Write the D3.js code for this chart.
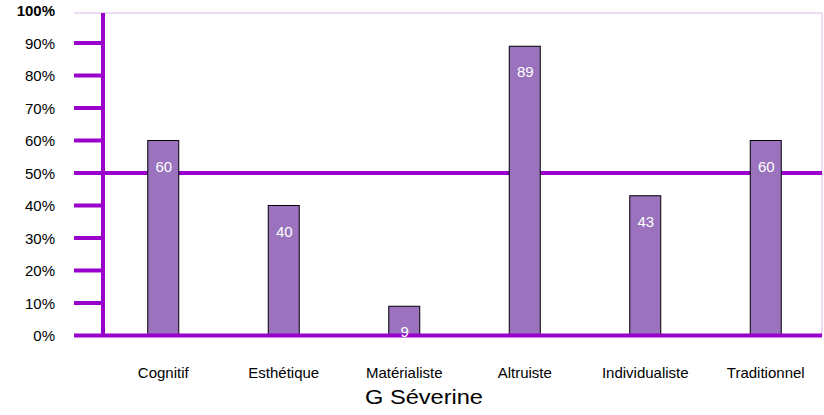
<!DOCTYPE html>
<html><head><meta charset="utf-8">
<script src="https://cdn.jsdelivr.net/npm/d3@7/dist/d3.min.js"></script>
<style>body{margin:0;background:#fff}svg{display:block;font-family:"Liberation Sans",Arial,sans-serif}</style>
</head><body><svg id="c" width="824" height="415"></svg>
<script>
const categories = ["Cognitif","Esthétique","Matérialiste","Altruiste","Individualiste","Traditionnel"];
const values = [60,40,9,89,43,60];
const yTicks = [0,10,20,30,40,50,60,70,80,90,100];
const title = "G Séverine";

const svg = d3.select("#c");
const purple = "#9900cc";
const x = d3.scaleBand().domain(categories).range([103,826]);
const y = d3.scaleLinear().domain([0,100]).range([335.5,10.5]);

// top and right light border
svg.append("line").attr("x1",74).attr("x2",822).attr("y1",13).attr("y2",13).attr("stroke","#dcb8ee").attr("stroke-width",1);
svg.append("line").attr("x1",822).attr("x2",822).attr("y1",13).attr("y2",y(0)).attr("stroke","#dcb8ee").attr("stroke-width",1);

// 50% line
svg.append("line").attr("x1",74).attr("x2",822).attr("y1",y(50)).attr("y2",y(50)).attr("stroke",purple).attr("stroke-width",4);

// y ticks
const yAxis = svg.append("g");
yAxis.selectAll("line.t").data(yTicks.filter(d=>d>0&&d<100&&d!==50)).join("line")
  .attr("x1",74).attr("x2",103).attr("y1",d=>y(d)).attr("y2",d=>y(d)).attr("stroke",purple).attr("stroke-width",4);
yAxis.selectAll("text").data(yTicks).join("text")
  .attr("x",55).attr("y",d=>y(d)+5.5).attr("text-anchor","end")
  .attr("font-size",15).attr("font-weight",d=>d===100?"bold":"normal").attr("fill","#000")
  .text(d=>d+"%");
svg.append("line").attr("x1",103).attr("x2",103).attr("y1",13).attr("y2",y(0)).attr("stroke",purple).attr("stroke-width",4);

// bars
const bw = 31;
svg.selectAll("rect.bar").data(values).join("rect")
  .attr("x",(d,i)=>x(categories[i])+x.bandwidth()/2-bw/2)
  .attr("y",d=>y(d)).attr("width",bw).attr("height",d=>y(0)-y(d))
  .attr("fill","#9a72be").attr("stroke","#000").attr("stroke-width",1);

// zero line
svg.append("line").attr("x1",74).attr("x2",822).attr("y1",y(0)).attr("y2",y(0)).attr("stroke",purple).attr("stroke-width",4);

// value labels
svg.selectAll("text.v").data(values).join("text")
  .attr("x",(d,i)=>x(categories[i])+x.bandwidth()/2+0.5)
  .attr("y",d=>y(d)+31).attr("text-anchor","middle").attr("font-size",15).attr("fill","#fff")
  .text(d=>d);

// category labels
svg.selectAll("text.c").data(categories).join("text")
  .attr("x",d=>x(d)+x.bandwidth()/2).attr("y",377.5).attr("text-anchor","middle").attr("font-size",15).attr("fill","#000")
  .text(d=>d);

svg.append("text").attr("x",365).attr("y",404).attr("font-size",20)
  .attr("textLength",118).attr("lengthAdjust","spacingAndGlyphs").attr("fill","#000").text(title);
</script></body></html>
